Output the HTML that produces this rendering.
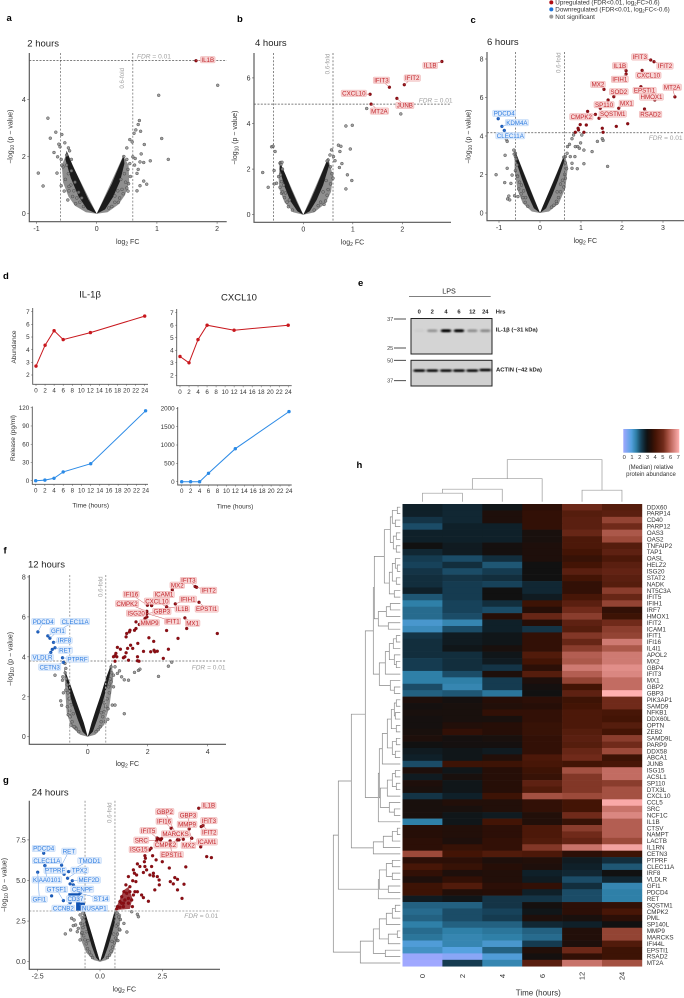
<!DOCTYPE html>
<html lang="en">
<head>
<meta charset="utf-8">
<title>LPS time course figure</title>
<style>
html,body{margin:0;padding:0;background:#fff;}
svg{display:block;font-family:"Liberation Sans",sans-serif;}
</style>
</head>
<body>
<svg id="fig" xmlns="http://www.w3.org/2000/svg" width="684" height="998" viewBox="0 0 684 998">
<defs>
<filter id="bandBlur" x="-30%" y="-100%" width="160%" height="300%"><feGaussianBlur stdDeviation="1.1 0.8"/></filter>
<linearGradient id="cbarGrad" x1="0" x2="1" y1="0" y2="0"></linearGradient>
</defs>
<g id="legend" font-size="6.3" fill="#333">
<circle cx="551.3" cy="2.4" r="2" fill="#b00d12"/>
<text x="555.3" y="4.6">Upregulated (FDR&lt;0.01, log<tspan font-size="4.4" dy="1">2</tspan><tspan dy="-1">FC&gt;0.6)</tspan></text>
<circle cx="551.3" cy="9.4" r="2" fill="#1f74d8"/>
<text x="555.3" y="11.6">Downregulated (FDR&lt;0.01, log<tspan font-size="4.4" dy="1">2</tspan><tspan dy="-1">FC&lt;-0.6)</tspan></text>
<circle cx="551.3" cy="16.6" r="2" fill="#999"/>
<text x="555.3" y="18.8">Not significant</text>
</g>
<g font-size="9.5" font-weight="bold" fill="#000">
<text x="6.5" y="21">a</text>
<text x="237" y="22">b</text>
<text x="470.5" y="23">c</text>
<text x="3" y="279">d</text>
<text x="358" y="286">e</text>
<text x="3.5" y="553.5">f</text>
<text x="3" y="783">g</text>
<text x="356.5" y="468">h</text>
</g>
<g id="volcanoes"></g>
<g id="lines"></g>
<g id="blot"></g>
<g id="heat"></g>
</svg>
<script>
/* ===== Panel a: 2 hours ===== */
const aTicksX=[-1,0,1,2], aTickLabelsX=['-1','0','1','2'], aTicksY=[0,2,4], aTickLabelsY=['0','2','4'];
const aFdr=5.36, aFold=0.6;
const aDenseOuter=[[[0,0],[-.5,2.1],[-.58,1.7],[-.56,1.1],[-.47,.6],[-.36,.28],[-.18,.05]],[[0,0],[.44,2.02],[.53,1.7],[.54,1.1],[.47,.65],[.36,.32],[.18,.05]]];
const aDenseCore=[[[0,0],[-.14,.5],[-.28,1.15],[-.4,1.7],[-.5,2.2],[-.52,1.9],[-.43,1.25],[-.3,.6],[-.16,.15]],[[0,0],[.12,.5],[.25,1.05],[.36,1.6],[.45,2.05],[.46,1.75],[.39,1.15],[.27,.58],[.14,.15]]];
const aGray=[[-.97,1.42],[-.89,.97],[-.81,3.34],[-.77,2.64],[-.68,2.85],[-.71,2.14],[-.66,1.42],[-.58,2.77],[-.63,2.43],[-.61,2.34],[-.53,2.48],[-.59,.98],[-.54,.79],[-.48,.48],[-.46,.8],[-.47,2.3],[-.65,1.99],[-.59,1.9],[-.56,1.64],[-.58,1.7],[2.01,4.49],[1.03,4.14],[.71,3.26],[.69,3.12],[.65,2.93],[.62,2.81],[.73,2.88],[.79,2.42],[1.08,2.63],[1.19,1.9],[.89,1.85],[.74,2.09],[.72,1.81],[.78,1.79],[.69,1.55],[.67,1.41],[.78,1.14],[.83,1.03],[.72,.98],[.67,.8],[.55,2.59],[.59,2.51],[.5,2.3],[.64,1.93],[.6,1.99],[.63,1.7],[.52,.79],[.36,.4],
[-.45,2.2],[-.42,1.9],[-.5,1.7],[-.47,1.4],[-.52,1.2],[-.43,1],[-.38,.8],[-.33,.55],[-.28,.4],[-.22,.25],[-.42,1.5],[-.46,.95],[-.36,1.1],[-.4,.6],[-.5,2.05],[-.3,.75],[-.25,.55],[-.35,.35],[.45,2],[.5,1.9],[.52,1.55],[.56,1.3],[.48,1.1],[.5,.9],[.44,.7],[.38,.55],[.3,.4],[.25,.25],[.53,1.05],[.46,1.4],[.42,.85],[.35,.8],[.3,.62],[.2,.2],[.55,1.75],[.4,1.2]];
const aUp=[], aDown=[];
const aUpGenes=[['IL1B',1.65,5.35]];
const aDownGenes=[];
const aLabelOffsets={IL1B:[11.7,-1]};

/* ===== Panel b: 4 hours ===== */
const bTicksX=[0,1,2], bTickLabelsX=['0','1','2'], bTicksY=[0,2,4,6], bTickLabelsY=['0','2','4','6'];
const bFdr=4.85, bFold=0.6;
const bDenseOuter=[[[0,0],[-.47,2.3],[-.5,1.6],[-.48,1.1],[-.38,.55],[-.2,.1]],[[0,0],[.5,2.5],[.6,1.7],[.56,1],[.45,.5],[.22,.1]]];
const bDenseCore=[[[0,0],[-.12,.5],[-.24,1.1],[-.36,1.75],[-.47,2.3],[-.48,2],[-.38,1.25],[-.26,.6],[-.12,.15]],[[0,0],[.12,.5],[.25,1.15],[.38,1.85],[.5,2.5],[.52,2.15],[.4,1.3],[.27,.65],[.13,.15]]];
const bGray=[[-.82,1.85],[-.71,1.2],[-.64,2.98],[-.61,3],[-.57,2.77],[-.59,1.94],[-.59,1.35],[-.54,1.38],[-.5,1.67],[-.47,2.26],[-.46,2.29],[-.43,2.3],[-.44,.94],[.57,2.84],[.61,2.55],[.54,2.62],[.71,3.05],[.73,2.07],[.74,2.77],[.64,2.37],[.5,2.4],[.86,3.89],[.99,3.92],[.76,3],[.95,2.88],[.78,2.24],[.89,1.75],[.98,1.5],[.86,1.13],[1.28,4.66],[1.97,4.42],
[-.45,2.2],[-.42,2],[-.46,1.75],[-.44,1.45],[-.47,1.2],[-.42,1],[-.38,.75],[-.33,.55],[-.3,.35],[-.22,.2],[-.4,1.3],[-.36,.95],[-.28,.65],[.48,2.35],[.55,2.1],[.58,1.8],[.6,1.6],[.55,1.35],[.5,1.1],[.48,.85],[.45,.6],[.42,.45],[.35,.55],[.3,.4],[.22,.2],[.46,1.5],[.4,1]];
const bUp=[], bDown=[];
const bUpGenes=[['IL1B',2.8,6.72],['IFIT2',2.04,5.7],['IFIT3',1.74,5.59],['CXCL10',1.35,5.28],['JUNB',1.89,5.1],['MT2A',1.37,4.85]];
const bDownGenes=[];
const bLabelOffsets={IL1B:[-11.7,4],IFIT2:[8,-6.7],IFIT3:[-8,-7],CXCL10:[-16.3,-1],JUNB:[8,7],MT2A:[8.3,7]};

/* ===== Panel c: 6 hours ===== */
const cTicksX=[-1,0,1,2,3], cTickLabelsX=['-1','0','1','2','3'], cTicksY=[0,2,4,6,8], cTickLabelsY=['0','2','4','6','8'];
const cFdr=4.17, cFold=0.6;
const cDenseOuter=[[[0,0],[-.62,3.3],[-.62,2.2],[-.55,1.2],[-.42,.5],[-.2,.08]],[[0,0],[.6,3.05],[.68,2.4],[.62,1.3],[.46,.5],[.22,.08]]];
const cDenseCore=[[[0,0],[-.14,.7],[-.28,1.45],[-.42,2.2],[-.62,3.3],[-.6,2.8],[-.44,1.75],[-.3,.95],[-.15,.25]],[[0,0],[.14,.7],[.28,1.4],[.42,2.1],[.6,3.05],[.58,2.6],[.44,1.7],[.3,.95],[.15,.25]]];
const cGray=[[-1.07,1.99],[-.86,1.58],[-.76,.88],[-.79,.73],[-.74,.68],[-.85,3],[-.8,3.72],[-.82,3.83],[-.8,2.32],[-.71,1.54],[-.68,1.97],[-.55,1.92],[-.54,.85],[-.64,3.27],[-.63,3.06],[-.6,2.93],[1.65,2.42],[1.27,3.19],[1.07,2.56],[.91,2.3],[.78,2.32],[.74,2.93],[.78,3.86],[.82,4.05],[.99,3.64],[1.02,4.05],[.92,3.45],[.96,3.36],[1.07,3.27],[.86,3.45],[.72,3.57],[.67,3.45],[.85,2.93],[.78,2.58],[1.4,3.72],[1.52,3.86],[1.54,3.77],[.41,.5],[.66,3.1],[.62,2.93],
[-.6,3.1],[-.58,2.8],[-.56,2.5],[-.6,2.2],[-.55,1.9],[-.5,1.6],[-.52,1.25],[-.46,1],[-.42,.8],[-.36,.55],[-.3,.35],[-.45,1.45],[-.4,1.15],[-.62,.9],[-.35,.8],[.58,2.9],[.62,2.6],[.65,2.3],[.6,2],[.55,1.7],[.58,1.35],[.5,1.1],[.45,.8],[.4,.6],[.34,.4],[.28,.3],[.5,1.5],[.42,1.1],[.62,1.8]];
const cUp=[[1.47,5.44],[1.16,5.28],[1.13,4.57],[.98,4.59],[.93,4.4],[.94,4.31],[1.07,4.19],[.86,4.19],[1.52,4.4],[1.54,4.19],[1.86,4.5],[2.14,4.64]];
const cDown=[];
const cUpGenes=[['IFIT3',2.7,7.95],['IFIT2',2.78,7.86],['IL1B',2.1,7.39],['IFIH1',2.1,7.22],['CXCL10',2.49,7.41],['MX2',1.56,6.42],['SOD2',1.8,6.04],['EPSTI1',2.46,6.56],['HMOX1',2.8,5.87],['MT2A',3.29,6.03],['MX1',1.92,5.44],['RSAD2',2.55,5.4],['SP110',1.66,5.87],['SQSTM1',1.44,4.92],['CMPK2',1.35,5.12]];
const cDownGenes=[['PDCD4',-1.02,4.9],['KDM4A',-.93,4.5],['CLEC11A',-.87,4.29]];
const cLabelOffsets={IFIT3:[-11,-3],IFIT2:[11,4.3],IL1B:[-6.3,-5],IFIH1:[-6.3,5.3],CXCL10:[6.3,5],MX2:[-6,-5],SOD2:[5,-5],EPSTI1:[3.7,3.7],HMOX1:[-3.3,-3],MT2A:[-2.7,-9.7],MX1:[7.7,-5],RSAD2:[6,5.3],SP110:[-4,4.7],SQSTM1:[13.7,-4.3],CMPK2:[-14,2.3],PDCD4:[6,-5.3],KDM4A:[15,-3.7],CLEC11A:[6,5.3]};

/* ===== Panel f: 12 hours ===== */
const fTicksX=[0,2,4], fTickLabelsX=['0','2','4'], fTicksY=[0,2,4,6,8], fTickLabelsY=['0','2','4','6','8'];
const fFdr=3.79, fFold=0.6;
const fDenseOuter=[[[0,0],[-.78,3.4],[-.75,2.4],[-.7,1.2],[-.55,.5],[-.25,.1]],[[0,0],[.8,3.7],[.85,2.9],[.72,1.5],[.55,.6],[.25,.1]]];
const fDenseCore=[[[0,0],[-.13,.7],[-.27,1.3],[-.46,2.1],[-.6,2.7],[-.78,3.4],[-.7,2.7],[-.52,1.7],[-.34,.9],[-.17,.25]],[[0,0],[.13,.7],[.27,1.35],[.44,2.1],[.6,2.9],[.8,3.7],[.72,2.95],[.52,1.85],[.35,1],[.17,.25]]];
const fGray=[[-1.09,3.08],[-.76,3.67],[-.73,3.42],[-.83,3],[-.84,2.83],[-.73,2.33],[-.81,2.2],[-.9,1.8],[-.87,1.57],[-.62,1.08],[-.56,.58],[-.42,.47],[1.22,1.15],[.82,1.58],[.91,1.58],[.67,.87],[.59,.75],[2.36,3.02],[2.69,3.53],[2.8,3.73],[1.74,3.38],[1.69,3.32],[1.56,3.22],[1.36,2.83],[1.22,2.85],[1.13,3],[1.06,3.3],[.99,3.17],[.91,3.5],[.86,3.08],[.78,2.75],[.72,2.58],[.86,2.5],
[-.75,3.2],[-.72,2.9],[-.68,2.6],[-.66,2.2],[-.62,1.9],[-.68,1.5],[-.6,1.3],[-.58,1],[-.52,.75],[-.45,.5],[-.38,.4],[-.3,.25],[-.55,1.6],[-.48,1.15],[-.65,1.1],[.78,3.5],[.8,3.2],[.75,2.9],[.7,2.5],[.72,2.2],[.65,1.9],[.6,1.5],[.55,1.25],[.5,1],[.45,.75],[.42,.5],[.35,.35],[.28,.25],[.55,1.7],[.45,1.2],[.68,1.4]];
const fUp=[[2.13,6.57],[3.3,5.42],[4.32,5.17],[3.01,4.92],[2.63,5.32],[1.97,6],[1.91,5.92],[1.61,5.75],[1.61,5.42],[1.56,5.33],[1.41,5.33],[1.39,5.25],[1.28,5],[1.3,5.17],[2.04,4.95],[2.2,4.77],[1.67,4.67],[1.43,4.58],[1.5,4.42],[1.33,4.42],[.99,4.47],[1.09,4.38],[1.28,4.2],[.94,4.17],[.91,4.05],[.86,4],[.97,4],[.91,3.78],[1.19,3.95],[1.24,4],[1.36,3.83],[1.66,4],[1.66,3.8],[1.71,3.78],[1.86,4.27],[2.1,4.25],[2.21,4.33],[2.24,4.25],[2.32,4.28],[2.69,4.38],[2.52,3.92]];
const fDown=[[-1.18,4.37]];
const fUpGenes=[['IFIT3',3.58,7.52],['IFIT2',3.63,7.48],['MX2',2.82,7.35],['ICAM1',2.13,6.57],['IFI16',1.99,6.58],['IFIH1',2.92,6.65],['CXCL10',2.63,6.5],['IL1B',2.63,6.5],['CMPK2',1.97,6.28],['EPSTI1',3.71,6.73],['GBP3',1.97,6.17],['ISG20',1.97,6],['IFIT1',1.97,6.17],['MMP9',1.72,5.62],['MX1',3.24,5.95]];
const fDownGenes=[['PDCD4',-1.66,5.25],['CLEC11A',-1.33,5.05],['GFI1',-1.26,4.93],['IRF8',-1.14,4.72],['RET',-1.09,4.45],['VLDLR',-1.23,4.22],['PTPRF',-.84,3.95],['CETN3',-.81,3.72]];
const fLabelOffsets={IFIT3:[-6.7,-6],IFIT2:[12,3],MX2:[5,-4.7],ICAM1:[12.3,-11],IFI16:[-16.3,-11],IFIH1:[12.7,-4.7],CXCL10:[-9.7,-5.7],IL1B:[15.7,2],CMPK2:[-19.7,-7.7],EPSTI1:[7.7,6.7],GBP3:[15,-2],ISG20:[-10.7,-3.7],IFIT1:[25.7,7.7],MMP9:[10.3,-1.7],MX1:[7.7,5.3],PDCD4:[5.3,-10.3],CLEC11A:[27.3,-14.3],GFI1:[8,-7.3],IRF8:[11,-2],RET:[10.3,2.3],VLDLR:[-8.3,5],PTPRF:[15,1.3],CETN3:[-13.7,4.7]};

/* ===== Panel g: 24 hours ===== */
const gTicksX=[-2.5,0,2.5], gTickLabelsX=['-2.5','0.0','2.5'], gTicksY=[0,2.5,5,7.5], gTickLabelsY=['0.0','2.5','5.0','7.5'];
const gFdr=3.12, gFold=0.6;
const gDenseOuter=[[[0,0],[-.62,3.15],[-.8,2.4],[-.78,1.4],[-.55,.55],[-.25,.1]],[[0,0],[.6,3.2],[.85,2.9],[.72,1.5],[.52,.55],[.25,.1]]];
const gDenseCore=[[[0,0],[-.15,.75],[-.3,1.55],[-.45,2.3],[-.62,3.15],[-.62,2.6],[-.48,1.75],[-.33,.95],[-.16,.25]],[[0,0],[.15,.75],[.3,1.55],[.45,2.3],[.6,3.2],[.62,2.6],[.48,1.75],[.33,.95],[.16,.25]]];
const gDenseUp=[[[.6,3.18],[.95,4.4],[1.14,4.6],[1.3,3.9],[1.2,3.25]]];
const gDenseDown=[[[-1.27,4.21],[-.8,4.21],[-.8,3.64],[-.6,3.64],[-.6,3.14],[-.96,3.14],[-.96,3.7],[-1.27,4]]];
const gGray=[[-1.39,1.71],[-1.18,1.95],[-1.07,2.22],[-.98,2.26],[-1.04,2.57],[-1.14,2.67],[-.87,2.05],[-.91,1.85],[-.8,1.34],[-.8,2.88],[-.74,1.75],[1.08,1.83],[1.27,3.08],[1.54,2.77],[1.5,2.92],[.96,2.36],[.8,1.95],[.67,1.34],
[-.68,3],[-.72,2.7],[-.78,2.35],[-.68,2.1],[-.72,1.8],[-.65,1.6],[-.6,1.35],[-.55,1.1],[-.5,.8],[-.42,.6],[-.36,.4],[-.3,.25],[-.55,1.85],[-.48,1.3],[-.62,2.3],[.68,3],[.75,2.75],[.82,2.6],[.72,2.3],[.78,2],[.7,1.7],[.62,1.45],[.58,1.15],[.5,.9],[.44,.65],[.38,.4],[.3,.25],[.55,1.7],[.48,1.25],[.65,2.2],[.72,1.3]];
const gUp=[[2.35,7.56],[2.47,7.58],[2.43,7.5],[3.11,7.5],[1.98,6.88],[4.28,6.47],[4.47,6.41],[1.8,6.53],[1.82,6.37],[2.11,6.53],[1.78,6.16],[2.25,6.27],[2.5,6.16],[3.44,5.84],[2.78,5.77],[1.34,5.65],[1.5,6.02],[1.6,5.86],[1.8,5.86],[2.07,5.86],[1.87,5.65],[1.74,5.49],[2.14,5.45],[2,5.34],[2.14,5.28],[2.3,5.24],[2.37,5.03],[2.38,4.73],[3,5.18],[3.11,5.07],[2.82,4.93],[2.94,4.79],[3.11,4.42],[3.37,4.77],[3.29,3.9],[2.2,4.42],[1.94,3.72],[1.67,4.11],[1.74,3.95],[1.5,4.31],[1.44,4.93],[1.47,5.34],[1.38,5.45],[1.14,5.24],[1.04,4.73],[.96,4.31],[.87,4],[.8,3.7],[.7,3.39],[.67,3.25],[1.27,3.8],[1.3,3.39],[1.14,3.9],[.94,3.6],[1.07,4.21],[1.2,4.62],[1.31,4.99],[.94,3.39],[.8,3.35],[1,3.8],[.87,3.6],[1.14,3.6],[1.2,4.31],[1.34,4.11],[1.4,4.31]];
const gDown=[[-1.2,4.79],[-1.94,4.05]];
const gUpGenes=[['IL1B',3.96,9.45],['GBP2',3.17,7.5],['GBP3',3.58,8.18],['MMP9',3.68,7.6],['IFIT3',4.06,8.32],['IFIT2',4.13,8.38],['IFI16',2.85,8.22],['IFIT5',2.29,7.62],['MARCKS',3.34,7.54],['SRC',2.27,7.44],['CMPK2',3.11,7.5],['MX2',3.68,7.6],['ICAM1',4.04,7.07],['ISG15',2.05,6.99],['EPSTI1',2.81,7.44]];
const gDownGenes=[['PDCD4',-2.26,6.68],['RET',-1.54,5.94],['CLEC11A',-2.21,5.92],['TMOD1',-1.26,5.55],['PTPRF',-1.44,5.38],['TPX2',-1.3,5.14],['KIAA0101',-2.21,5.92],['MEF2D',-1.11,4.99],['GTSF1',-1.47,3.76],['CENPF',-1.07,4.73],['CD37',-1.2,3.64],['ST14',-.8,4.21],['CCNB2',-1.2,3.64],['NUSAP1',-.8,3.49],['GFI1',-2.5,5.51]];
const gLabelOffsets={IL1B:[10,-2.7],GBP2:[-14.3,-28.3],GBP3:[-1.3,-13.7],MMP9:[-4.7,-14],IFIT3:[7.7,-6],IFIT2:[6.3,6.7],IFI16:[-7,-7],IFIT5:[-9,-7.3],MARCKS:[-7.7,-5.3],SRC:[-15.3,-.7],CMPK2:[-12,5],MX2:[-3.3,7],ICAM1:[6.3,-5],ISG15:[-12.3,1.3],EPSTI1:[1.7,13.7],PDCD4:[0,-4.7],RET:[7.3,-14],CLEC11A:[2,-5],TMOD1:[21,-11],PTPRF:[-9,-4],TPX2:[12,-8],KIAA0101:[2,14.3],MEF2D:[16.7,-.7],GTSF1:[-6.7,-11.3],CENPF:[9,4.3],CD37:[5.3,-3.7],ST14:[21,5.3],CCNB2:[-6.7,5.7],NUSAP1:[14.3,3.3],GFI1:[1.7,27]};

/* ===== Panel d: time courses ===== */
const timePoints=[0,2,4,6,12,24];
const timeTicks=[0,2,4,6,8,10,12,14,16,18,20,22,24];
const il1bAbundance=[2.7,4.35,5.5,4.8,5.35,6.65];
const cxcl10Abundance=[3.5,3.0,4.85,6.0,5.6,6.0];
const il1bRelease=[0,1,4,14.5,28,115];
const cxcl10Release=[0,0,0,230,900,1910];
const abundanceTicks=[2,3,4,5,6,7];
const il1bReleaseTicks=[0,30,60,90,120];
const cxcl10ReleaseTicks=[0,500,1000,1500,2000];

/* ===== Panel e: blot ===== */
const laneLabels=['0','2','4','6','12','24'];
const il1bBand=[0.03,0.28,0.98,0.95,0.3,0.32];
const actinBand=[0.9,0.9,0.9,0.9,0.9,0.93];
const il1bLadder=[['37',319],['25',348]];
const actinLadder=[['50',360.3],['37',380.7]];

/* ===== Panel h: heatmap ===== */
const heatTimes=['0','2','4','6','12','24'];
const colorTicks=[0,1,2,3,4,5,6,7];
const heatGenes=['DDX60','PARP14','CD40','PARP12','OAS3','OAS2','TNFAIP2','TAP1','OASL','HELZ2','ISG20','STAT2','NADK','NT5C3A','IFIT5','IFIH1','IRF7','HMOX1','IFIT2','ICAM1','IFIT1','IFI16','IL4I1','APOL2','MX2','GBP4','IFIT3','MX1','GBP2','GBP3','PIK3AP1','SAMD9','NFKB1','DDX60L','OPTN','ZEB2','SAMD9L','PARP9','DDX58','ABCA1','JUNB','ISG15','ACSL1','SP110','DTX3L','CXCL10','CCL5','SRC','NCF1C','IL1B','CTSV','NAMPT','LACTB','IL1RN','CETN3','PTPRF','CLEC11A','IRF8','VLDLR','GFI1','PDCD4','RET','SQSTM1','CMPK2','PML','SP140L','MMP9','MARCKS','IFI44L','EPSTI1','RSAD2','MT2A'];
const heatValues=[
[2.7,2.6,2.9,3.6,4.9,4.4],[2.7,2.6,3.3,3.7,4.4,4.5],[2.4,2.6,3.3,3.7,4.5,5.4],[2.1,2.7,2.7,3.7,4.5,5.0],[2.7,2.7,2.7,3.2,4.8,5.7],[2.7,2.7,2.7,3.2,4.2,5.5],
[3.0,2.8,3.1,3.3,4.2,4.4],[2.6,2.8,3.1,3.3,4.0,4.6],[2.3,2.1,2.5,3.3,3.8,4.2],[2.2,2.5,2.0,3.0,4.0,4.5],[2.4,2.1,2.3,3.0,4.5,4.7],[2.5,2.4,2.5,3.0,4.0,4.5],
[2.5,2.3,2.2,2.6,3.7,4.4],[2.7,2.3,3.0,2.6,3.7,5.3],[2.0,2.3,3.0,2.8,4.1,4.8],[1.6,2.2,2.5,3.9,4.5,5.4],[1.8,2.2,2.1,3.5,5.0,3.7],[1.8,2.1,3.5,4.8,5.3,3.9],
[1.2,1.5,2.7,3.5,4.6,5.0],[1.4,2.1,2.7,2.4,4.4,5.3],[2.4,2.8,2.9,3.7,5.2,5.4],[2.5,2.8,2.9,3.7,4.8,6.2],[2.5,2.9,3.2,3.7,5.3,5.7],[2.5,2.5,2.9,4.3,5.8,6.2],
[2.3,2.5,2.8,4.0,5.7,6.2],[2.3,2.5,2.4,3.6,6.2,6.5],[1.6,2.1,3.3,4.4,5.8,6.4],[1.6,1.6,2.3,3.3,5.4,6.0],[2.1,1.5,2.3,3.1,4.0,6.0],[1.9,2.0,1.7,3.0,4.6,7.0],
[3.3,3.1,3.5,3.6,3.9,5.0],[3.1,3.2,3.4,3.5,4.0,5.0],[3.2,3.2,3.7,3.7,4.2,4.1],[3.1,3.2,3.2,3.7,4.2,4.0],[3.1,3.4,3.5,3.8,4.2,4.4],[3.2,3.7,3.5,3.8,4.4,4.0],
[3.3,3.1,3.2,3.7,4.5,5.3],[3.0,3.1,3.1,3.7,4.4,5.0],[2.8,2.9,2.8,3.7,4.8,5.5],[2.7,2.9,3.4,4.2,5.0,3.9],[2.1,3.9,3.9,4.1,4.0,4.1],[3.3,2.9,3.5,3.9,5.6,6.0],
[2.8,3.2,3.5,3.8,5.2,6.0],[3.3,2.9,3.5,4.6,5.2,5.3],[3.2,2.9,3.5,4.3,5.2,5.6],[2.4,2.7,3.9,5.6,5.5,5.6],[3.2,3.4,3.4,3.7,4.0,6.9],[3.2,3.2,3.4,3.7,4.0,6.1],
[3.2,2.9,2.8,3.4,5.0,6.4],[1.6,2.9,4.0,3.4,3.8,5.8],[3.5,3.4,3.6,4.2,5.3,5.8],[3.5,3.4,3.6,4.2,5.0,5.8],[3.6,3.3,3.7,4.3,4.7,5.5],[3.6,3.8,3.7,5.2,6.1,6.8],
[5.5,4.0,4.3,4.2,3.6,3.9],[3.6,3.6,3.3,3.4,2.8,2.5],[4.1,3.8,3.5,3.3,2.7,2.0],[3.7,3.3,3.4,2.7,2.6,3.0],[3.3,3.7,3.4,2.8,2.1,2.6],[3.9,4.3,3.6,3.7,2.5,1.5],
[3.9,3.4,3.5,2.7,2.1,1.6],[2.8,2.9,2.4,2.4,2.1,1.6],[1.9,1.9,2.4,3.1,3.6,3.7],[1.8,2.1,2.2,2.9,3.6,4.1],[1.9,2.1,2.3,3.3,3.2,3.6],[1.6,1.9,1.9,2.6,2.7,3.0],
[1.8,1.6,1.7,1.9,3.4,5.4],[1.7,1.5,1.6,1.8,3.4,5.4],[1.1,1.5,1.2,2.3,3.3,4.3],[1.3,1.0,1.9,3.4,4.9,3.9],[0.1,0.3,1.1,3.1,3.7,3.9],[0.0,2.3,1.5,4.5,6.1,5.6]];
const colorStopValues=[0,1,1.6,2.2,2.7,3,3.5,4,5,5.5,6,7];
const colorStopHex=['#a0a8ff','#56a2e0','#2f80a8','#17425a','#0f2029','#111111','#260e07','#431405','#702a1a','#9c4a3a','#c26c62','#ffb0b0'];
/* row dendrogram: [merge height, child, child]; integers are row indices */
const rowTree=[67,[62,[49,[35,[27,[26,[16,[10,[8,[3,0,1],[5,2,3]],[7,[4,4,5],[4,6,7]]],[11,[8,[5,8,[3,9,10]],[4,11,12]],[6,13,14]]],[22,[14,[10,15,16],17],[12,18,19]]],[21,[15,[11,[7,[4,20,21],22],[6,23,[4,24,25]]],26],[10,27,[6,28,29]]]],[22,[21,[18,[13,[9,[6,[4,30,31],[5,32,33]],[4,34,35]],[8,[4,36,37],[5,38,39]]],40],[20,[13,[8,[5,41,42],[4,43,44]],45],[11,46,[6,47,48]]]],49]],[27,[17,[8,[3,50,51],52],53],54]],[22,[21,[14,[8,55,56],[8,57,58]],[12,59,60]],61]],[40,[27,[21,[14,[8,[5,62,63],64],65],[12,[3,66,67],68]],[15,69,70]],71]];
/* column dendrogram: same form; integers are column indices */
const colTree=[42,[23,[12.5,[8.5,0,1],2],3],[11.5,4,5]];

const NS='http://www.w3.org/2000/svg';
function mk(tag,attrs,parent,txt){
  const el=document.createElementNS(NS,tag);
  for(const k in attrs) el.setAttribute(k,attrs[k]);
  if(txt!==undefined) el.textContent=txt;
  parent.appendChild(el);
  return el;
}
function lerpHex(a,b,t){
  const p=h=>[1,3,5].map(i=>parseInt(h.substr(i,2),16));
  const A=p(a),B=p(b);
  return 'rgb('+A.map((v,i)=>Math.round(v+(B[i]-v)*t)).join(',')+')';
}
function heatColor(v){
  for(let i=0;i<colorStopValues.length-1;i++){
    if(v<=colorStopValues[i+1]){
      return lerpHex(colorStopHex[i],colorStopHex[i+1],(v-colorStopValues[i])/(colorStopValues[i+1]-colorStopValues[i]));
    }
  }
  return colorStopHex[colorStopHex.length-1];
}
function polyStr(list,sx,sy){return list.map(p=>sx(p[0]).toFixed(1)+','+sy(p[1]).toFixed(1)).join(' ');}

function drawVolcano(p){
  const root=document.getElementById('volcanoes');
  const g=mk('g',{},root);
  
  
  const sx=v=>p.x0+v*p.kx, sy=v=>p.y0-v*p.ky;
  const title=mk('text',{x:p.titleX,y:p.titleY,'font-size':9.5,fill:'#222'},g,p.title);
  
  
  (p.denseOuter||[]).forEach(list=>{
    const el=mk('polygon',{points:polyStr(list,sx,sy),fill:'#8f8f8f'},g);
    
    
  });
  (p.denseCore||[]).forEach(list=>{
    const el=mk('polygon',{points:polyStr(list,sx,sy),fill:'#1c1c1c'},g);
    
    
  });
  (p.gray||[]).forEach(d=>{
    const el=mk('circle',{cx:sx(d[0]).toFixed(1),cy:sy(d[1]).toFixed(1),r:1.45,fill:'#8a8a8a','fill-opacity':.8,stroke:'#444','stroke-width':.45},g);
    
    
  });
  (p.denseUp||[]).forEach(list=>{
    const el=mk('polygon',{points:polyStr(list,sx,sy),fill:'#8c1016','fill-opacity':.8},g);
    
    
  });
  (p.denseDown||[]).forEach(list=>{
    const el=mk('polygon',{points:polyStr(list,sx,sy),fill:'#0f52b4'},g);
    
    
  });
  // threshold lines
  [-p.fold,p.fold].forEach(v=>{
    const el=mk('line',{x1:sx(v),x2:sx(v),y1:p.top,y2:p.bottom,stroke:p.vColor,'stroke-width':p.vWidth,'stroke-dasharray':'2 1.6'},g);
    
    
  });
  const hl=mk('line',{x1:p.left,x2:p.right,y1:sy(p.fdr),y2:sy(p.fdr),stroke:p.hColor,'stroke-width':p.hWidth,'stroke-dasharray':'2 1.4'},g);
  
  
  const fdrT=mk('text',{x:p.fdrX,y:p.fdrY,'font-size':6.6,fill:'#a0a0a0'},g);
  
  
  mk('tspan',{'font-style':'italic'},fdrT,'FDR');
  mk('tspan',{},fdrT,' = 0.01');
  const foldT=mk('text',{x:p.foldX,y:p.foldY,'font-size':6.2,fill:'#a0a0a0','text-anchor':'middle',transform:'rotate(-90 '+p.foldX+' '+p.foldY+')','dominant-baseline':'middle'},g,'0.6-fold');
  
  
  // axes
  const ax=mk('path',{d:'M'+p.left+' '+p.top+'V'+p.bottom+'H'+p.right,fill:'none',stroke:'#555','stroke-width':1.15},g);
  
  
  p.ticksX.forEach((v,i)=>{
    const t=mk('line',{x1:sx(v),x2:sx(v),y1:p.bottom,y2:p.bottom+2,stroke:'#555','stroke-width':.6},g);
    
    
    const l=mk('text',{x:sx(v),y:p.tickLabelY,'font-size':7,fill:'#333','text-anchor':'middle'},g,p.tickLabelsX[i]);
    
    
  });
  p.ticksY.forEach((v,i)=>{
    const t=mk('line',{x1:p.left-2,x2:p.left,y1:sy(v),y2:sy(v),stroke:'#555','stroke-width':.6},g);
    
    
    const l=mk('text',{x:p.left-3.5,y:sy(v)+2.5,'font-size':7,fill:'#333','text-anchor':'end'},g,p.tickLabelsY[i]);
    
    
  });
  const xt=mk('text',{x:p.xTitleX,y:p.xTitleY,'font-size':7,fill:'#333','text-anchor':'middle'},g);
  
  
  mk('tspan',{},xt,'log');
  mk('tspan',{'font-size':5,dy:1.5},xt,'2');
  mk('tspan',{dy:-1.5},xt,' FC');
  const yt=mk('text',{'font-size':7,fill:'#333','text-anchor':'middle',transform:'translate('+p.yTitleX+' '+p.yTitleY+') rotate(-90)'},g);
  
  
  mk('tspan',{},yt,'\u2212log');
  mk('tspan',{'font-size':5,dy:1.5},yt,'10');
  mk('tspan',{dy:-1.5},yt,' (p \u2212 value)');
  // significant points
  (p.up||[]).concat(p.upGenes.map(d=>[d[1],d[2]])).forEach(d=>{
    const el=mk('circle',{cx:sx(d[0]).toFixed(1),cy:sy(d[1]).toFixed(1),r:1.5,fill:'#8e0d13',stroke:'#6a0a10','stroke-width':.3},g);
    
    
  });
  (p.down||[]).concat(p.downGenes.map(d=>[d[1],d[2]])).forEach(d=>{
    const el=mk('circle',{cx:sx(d[0]).toFixed(1),cy:sy(d[1]).toFixed(1),r:1.5,fill:'#1a5cbc',stroke:'#124a9c','stroke-width':.3},g);
    
    
  });
  // gene labels
  const addLabel=(d,text,fill,border,line)=>{
    const off=p.offsets[d[0]];
    const px=sx(d[1]),py=sy(d[2]),cx=px+off[0],cy=py+off[1];
    const c=mk('line',{x1:px,y1:py,x2:cx,y2:cy,stroke:line,'stroke-width':.5},g);
    
    
    const r=mk('rect',{rx:1,ry:1,fill:fill,stroke:border,'stroke-width':.5,'fill-opacity':.92},g);
    
    
    const t=mk('text',{x:cx,y:cy+2.2,'font-size':6.2,fill:text,'text-anchor':'middle'},g,d[0]);
    
    
    const w=t.getComputedTextLength()+2;
    r.setAttribute('x',cx-w/2);r.setAttribute('y',cy-3.2);r.setAttribute('width',w);r.setAttribute('height',6.4);
  };
  p.upGenes.forEach(d=>addLabel(d,'#c0242a','#f7d3d3','#eeb0b0','#c9565a'));
  p.downGenes.forEach(d=>addLabel(d,'#2c7ce0','#e0ecfc','#b7d3f6','#5f9ae8'));
}

drawVolcano({id:'2-hours',title:'2 hours',titleX:27.3,titleY:46.5,x0:96.7,kx:60.2,y0:213.7,ky:28.6,left:29.3,right:226.7,top:53,bottom:221.7,fdr:aFdr,fold:aFold,vColor:'#666',vWidth:.7,hColor:'#555',hWidth:.7,fdrX:137,fdrY:58.3,foldX:122.3,foldY:78.3,tickLabelY:231,xTitleX:127.7,xTitleY:244,yTitleX:12.5,yTitleY:136.7,ticksX:aTicksX,tickLabelsX:aTickLabelsX,ticksY:aTicksY,tickLabelsY:aTickLabelsY,denseOuter:aDenseOuter,denseCore:aDenseCore,gray:aGray,up:aUp,down:aDown,upGenes:aUpGenes,downGenes:aDownGenes,offsets:aLabelOffsets});
drawVolcano({id:'4-hours',title:'4 hours',titleX:255,titleY:46,x0:303.3,kx:49.5,y0:214.7,ky:22.8,left:254,right:451,top:53,bottom:222.3,fdr:bFdr,fold:bFold,vColor:'#555',vWidth:.7,hColor:'#555',hWidth:.7,fdrX:418.7,fdrY:102.3,foldX:327.7,foldY:64,tickLabelY:231.5,xTitleX:352.5,xTitleY:244.5,yTitleX:237,yTitleY:137.7,ticksX:bTicksX,tickLabelsX:bTickLabelsX,ticksY:bTicksY,tickLabelsY:bTickLabelsY,denseOuter:bDenseOuter,denseCore:bDenseCore,gray:bGray,up:bUp,down:bDown,upGenes:bUpGenes,downGenes:bDownGenes,offsets:bLabelOffsets});
drawVolcano({id:'6-hours',title:'6 hours',titleX:487,titleY:45,x0:540,kx:41,y0:213,ky:19.25,left:487,right:684,top:52,bottom:220.7,fdr:cFdr,fold:cFold,vColor:'#555',vWidth:.7,hColor:'#555',hWidth:.7,fdrX:648.7,fdrY:140,foldX:559,foldY:62.7,tickLabelY:229.8,xTitleX:585.3,xTitleY:243,yTitleX:470.5,yTitleY:136.7,ticksX:cTicksX,tickLabelsX:cTickLabelsX,ticksY:cTicksY,tickLabelsY:cTickLabelsY,denseOuter:cDenseOuter,denseCore:cDenseCore,gray:cGray,up:cUp,down:cDown,upGenes:cUpGenes,downGenes:cDownGenes,offsets:cLabelOffsets});
drawVolcano({id:'12-hours',title:'12 hours',titleX:28,titleY:567.5,x0:87.7,kx:30,y0:736.7,ky:19.97,left:29.3,right:226,top:575,bottom:744.3,fdr:fFdr,fold:fFold,vColor:'#aaa',vWidth:1.1,hColor:'#666',hWidth:.7,fdrX:191.7,fdrY:669.3,foldX:100.7,foldY:586.7,tickLabelY:754,xTitleX:127.3,xTitleY:766,yTitleX:12.5,yTitleY:659,ticksX:fTicksX,tickLabelsX:fTickLabelsX,ticksY:fTicksY,tickLabelsY:fTickLabelsY,denseOuter:fDenseOuter,denseCore:fDenseCore,gray:fGray,up:fUp,down:fDown,upGenes:fUpGenes,downGenes:fDownGenes,offsets:fLabelOffsets});
drawVolcano({id:'24-hours',title:'24 hours',titleX:31.7,titleY:795.5,x0:100,kx:24.93,y0:961.7,ky:16.24,left:29.3,right:220,top:800.7,bottom:969.3,fdr:gFdr,fold:gFold,vColor:'#888',vWidth:.8,hColor:'#aaa',hWidth:1,fdrX:184.3,fdrY:918,foldX:110,foldY:812.7,tickLabelY:978.5,xTitleX:124.3,xTitleY:991.5,yTitleX:6.5,yTitleY:885,ticksX:gTicksX,tickLabelsX:gTickLabelsX,ticksY:gTicksY,tickLabelsY:gTickLabelsY,denseOuter:gDenseOuter,denseCore:gDenseCore,denseUp:gDenseUp,denseDown:gDenseDown,gray:gGray,up:gUp,down:gDown,upGenes:gUpGenes,downGenes:gDownGenes,offsets:gLabelOffsets});

function drawLine(p){
  const root=document.getElementById('lines');
  const g=mk('g',{},root);
  
  
  const sx=v=>p.x0+v*p.kx, sy=v=>p.y0-(v-p.yBase)*p.ky;
  const ax=mk('path',{d:'M'+p.left+' '+p.top+'V'+p.bottom+'H'+p.right,fill:'none',stroke:'#555','stroke-width':.9},g);
  
  
  timeTicks.forEach(v=>{
    const t=mk('line',{x1:sx(v),x2:sx(v),y1:p.bottom,y2:p.bottom+1.6,stroke:'#555','stroke-width':.5},g);
    
    
    const l=mk('text',{x:sx(v),y:p.bottom+8.2,'font-size':6.2,fill:'#333','text-anchor':'middle'},g,String(v));
    
    
  });
  p.ticksY.forEach(v=>{
    const t=mk('line',{x1:p.left-1.6,x2:p.left,y1:sy(v),y2:sy(v),stroke:'#555','stroke-width':.5},g);
    
    
    const l=mk('text',{x:p.left-3,y:sy(v)+2.2,'font-size':6.3,fill:'#333','text-anchor':'end'},g,String(v));
    
    
  });
  const path=mk('polyline',{points:timePoints.map((t,i)=>sx(t).toFixed(1)+','+sy(p.values[i]).toFixed(1)).join(' '),fill:'none',stroke:p.color,'stroke-width':1},g);
  
  
  timePoints.forEach((t,i)=>{
    const c=mk('circle',{cx:sx(t).toFixed(1),cy:sy(p.values[i]).toFixed(1),r:1.7,fill:p.color},g);
    
    
  });
  if(p.title){
    const t=mk('text',{x:p.titleX,y:p.titleY,'font-size':9.5,fill:'#222','text-anchor':'middle'},g,p.title);
    
    
  }
  if(p.yTitle){
    const t=mk('text',{'font-size':6.5,fill:'#333','text-anchor':'middle',transform:'translate('+p.yTitleX+' '+p.yTitleY+') rotate(-90)'},g,p.yTitle);
    
    
  }
  if(p.xTitle){
    const t=mk('text',{x:p.xTitleX,y:p.xTitleY,'font-size':6.5,fill:'#333','text-anchor':'middle'},g,p.xTitle);
    
    
  }
}
drawLine({id:'il1b-abundance-chart',values:il1bAbundance,ticksY:abundanceTicks,color:'#c8171d',x0:36,kx:4.53,y0:375,ky:12.66,yBase:2,left:32.7,right:148,top:308,bottom:384.3,title:'IL-1\u03b2',titleX:90,titleY:297.5,yTitle:'Abundance',yTitleX:16,yTitleY:347});
drawLine({id:'cxcl10-abundance-chart',values:cxcl10Abundance,ticksY:abundanceTicks,color:'#c8171d',x0:180,kx:4.51,y0:375.3,ky:12.53,yBase:2,left:176.7,right:291.7,top:309,bottom:385.7,title:'CXCL10',titleX:239,titleY:300.5});
drawLine({id:'il1b-release-chart',values:il1bRelease,ticksY:il1bReleaseTicks,color:'#2b8ae6',x0:35.7,kx:4.58,y0:480.7,ky:.608,yBase:0,left:32.3,right:148,top:406.5,bottom:484.3,yTitle:'Release (pg/ml)',yTitleX:15,yTitleY:438,xTitle:'Time (hours)',xTitleX:90.7,xTitleY:507.3});
drawLine({id:'cxcl10-release-chart',values:cxcl10Release,ticksY:cxcl10ReleaseTicks,color:'#2b8ae6',x0:181.7,kx:4.47,y0:481.7,ky:.0367,yBase:0,left:177.7,right:291.7,top:407,bottom:485,xTitle:'Time (hours)',xTitleX:235,xTitleY:508.3});

(function(){
  const g=document.getElementById('blot');
  const laneX=[419.3,432.3,446,459,472.3,485.3];
  const lps=mk('text',{x:449,y:293.5,'font-size':7.2,fill:'#222','text-anchor':'middle'},g,'LPS');
  
  
  const ll=mk('line',{x1:409,x2:490.7,y1:296.3,y2:296.3,stroke:'#333','stroke-width':.7},g);
  
  
  laneLabels.forEach((t,i)=>{
    const el=mk('text',{x:laneX[i],y:313.3,'font-size':5.8,'font-weight':'bold',fill:'#222','text-anchor':'middle'},g,t);
    
    
  });
  const hrs=mk('text',{x:495.8,y:313.3,'font-size':5.8,'font-weight':'bold',fill:'#222'},g,'Hrs');
  
  
  const box1=mk('rect',{x:411,y:318.5,width:81,height:35.5,fill:'#d4d4d4',stroke:'#222','stroke-width':1},g);
  
  
  const box2=mk('rect',{x:411,y:360.3,width:81,height:25.7,fill:'#d0d0d0',stroke:'#222','stroke-width':1},g);
  
  
  il1bBand.forEach((v,i)=>{
    const b=mk('rect',{x:laneX[i]-5,y:329.2,width:10,height:3,rx:1.5,fill:'#000','fill-opacity':v,filter:'url(#bandBlur)'},g);
    
    
  });
  actinBand.forEach((v,i)=>{
    const b=mk('rect',{x:laneX[i]-5.8,y:369.2-(i===5?.6:0),width:11.6,height:2.8,rx:1.2,fill:'#000','fill-opacity':v,filter:'url(#bandBlur)'},g);
    
    
  });
  il1bLadder.concat(actinLadder).forEach(d=>{
    const l=mk('line',{x1:394,x2:406,y1:d[1],y2:d[1],stroke:'#222','stroke-width':.8},g);
    
    
    const t=mk('text',{x:393.3,y:d[1]+2,'font-size':5.6,fill:'#444','text-anchor':'end'},g,d[0]);
    
    
  });
  const a=mk('text',{x:495.7,y:331.3,'font-size':5.9,'font-weight':'bold',fill:'#222'},g,'IL-1\u03b2 (~31 kDa)');
  
  
  const b=mk('text',{x:496,y:371.3,'font-size':5.9,'font-weight':'bold',fill:'#222'},g,'ACTIN (~42 kDa)');
  
  
})();

(function(){
  const g=document.getElementById('heat');
  const left=402.5, top=504, cw=39.9, ch=6.42;
  heatValues.forEach((row,r)=>{
    row.forEach((v,c)=>{
      const el=mk('rect',{x:left+c*cw,y:top+r*ch,width:cw+.3,height:ch+.3,fill:heatColor(v)},g);
      
      
    });
    const t=mk('text',{x:646.7,y:top+r*ch+5.3,'font-size':6.3,fill:'#333'},g,heatGenes[r]);
    
    
  });
  heatTimes.forEach((t,c)=>{
    const x=left+(c+.5)*cw;
    const el=mk('text',{'font-size':7.5,fill:'#333','text-anchor':'middle',transform:'translate('+(x+2.6)+' 976) rotate(-90)'},g,t);
    
    
  });
  const tt=mk('text',{x:538.3,y:995.5,'font-size':8,fill:'#333','text-anchor':'middle'},g,'Time (hours)');
  
  
  // row dendrogram
  const X0=400.3;
  function drawRow(n){
    if(typeof n==='number') return {y:top+(n+.5)*ch,x:X0};
    const a=drawRow(n[1]),b=drawRow(n[2]),x=X0-n[0];
    const el=mk('path',{d:'M'+a.x+' '+a.y+'H'+x+'V'+b.y+'H'+b.x,fill:'none',stroke:'#888','stroke-width':.7},g);
    
    
    return {x:x,y:(a.y+b.y)/2};
  }
  drawRow(rowTree);
  // column dendrogram
  const Y0=501.7;
  function drawCol(n){
    if(typeof n==='number') return {x:left+(n+.5)*cw,y:Y0};
    const a=drawCol(n[1]),b=drawCol(n[2]),y=Y0-n[0];
    const el=mk('path',{d:'M'+a.x+' '+a.y+'V'+y+'H'+b.x+'V'+b.y,fill:'none',stroke:'#999','stroke-width':.7},g);
    
    
    return {x:(a.x+b.x)/2,y:y};
  }
  drawCol(colTree);
  // color key
  const grad=document.getElementById('cbarGrad');
  colorStopValues.forEach((v,i)=>{
    mk('stop',{offset:(v/7*100)+'%','stop-color':colorStopHex[i]},grad);
  });
  const bar=mk('rect',{x:623.3,y:429,width:56,height:23.7,fill:'url(#cbarGrad)'},g);
  
  
  colorTicks.forEach(v=>{
    const t=mk('text',{x:624.3+v*7.71,y:458.8,'font-size':5.8,fill:'#333','text-anchor':'middle'},g,String(v));
    
    
  });
  const c1=mk('text',{x:651,y:468.8,'font-size':6,fill:'#333','text-anchor':'middle'},g,'(Median) relative');
  
  
  const c2=mk('text',{x:651,y:475.9,'font-size':6,fill:'#333','text-anchor':'middle'},g,'protein abundance');
  
  
})();
</script>
</body>
</html>
